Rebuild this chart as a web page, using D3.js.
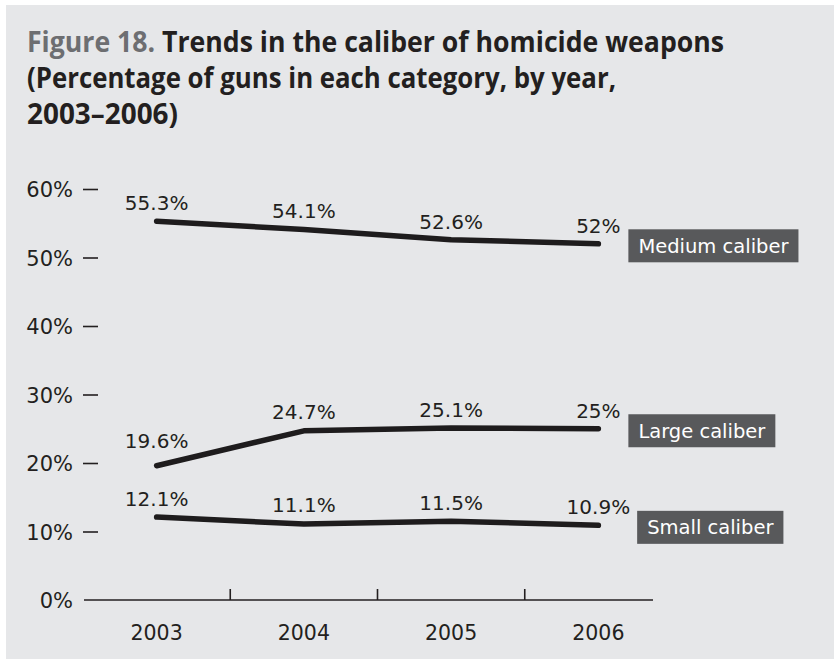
<!DOCTYPE html>
<html>
<head>
<meta charset="utf-8">
<script src="https://cdn.jsdelivr.net/npm/d3@7"></script>
<style>
  body { margin: 0; background: #fff; }
  svg { display: block; }
</style>
</head>
<body>
<div id="chart"></div>
<script>
// years along the x axis
var years = ["2003", "2004", "2005", "2006"];
// percentage of guns per caliber
var medium = [55.3, 54.1, 52.6, 52];
var large = [19.6, 24.7, 25.1, 25];
var small = [12.1, 11.1, 11.5, 10.9];
var seriesNames = ["Medium caliber", "Large caliber", "Small caliber"];
var yTicks = [0, 10, 20, 30, 40, 50, 60];

var W = 834, H = 659;
var svg = d3.select("#chart").append("svg")
    .attr("width", W).attr("height", H);

// gray panel
svg.append("rect")
    .attr("x", 6).attr("y", 5)
    .attr("width", W - 6).attr("height", H - 5)
    .attr("fill", "#e6e7e9");

/* title, three lines */
var title = svg.append("g")
    .style("font-family", "'Open Sans', sans-serif")
    .style("font-weight", "bold")
    .style("font-size", "29px");

var t1 = title.append("text").attr("x", 27).attr("y", 52)
    .attr("textLength", 697).attr("lengthAdjust", "spacingAndGlyphs");
t1.append("tspan").attr("fill", "#6d6e71").text("Figure 18. ");
t1.append("tspan").attr("fill", "#231f20").text("Trends in the caliber of homicide weapons");

title.append("text").attr("x", 27).attr("y", 88)
    .attr("fill", "#231f20")
    .attr("textLength", 589).attr("lengthAdjust", "spacingAndGlyphs")
    .text("(Percentage of guns in each category, by year,");
title.append("text").attr("x", 27).attr("y", 124)
    .attr("fill", "#231f20")
    .attr("textLength", 151).attr("lengthAdjust", "spacingAndGlyphs")
    .text("2003\u20132006)");

/* scales */
var x = d3.scaleBand()
    .domain(years)
    .range([83, 672]);

var y = d3.scaleLinear()
    .domain([0, 60])
    .range([600, 189]);

var cx = function(d) { return x(d) + x.bandwidth() / 2; };

/* y axis: no domain line, short dash ticks */
var yAxis = svg.append("g")
    .attr("transform", "translate(98,0)")
    .call(d3.axisLeft(y)
      .tickValues(yTicks)
      .tickSize(15)
      .tickPadding(10)
      .tickFormat(function(d) { return d + "%"; }));
yAxis.select(".domain").remove();
yAxis.selectAll(".tick line")
    .attr("stroke", "#231f20")
    .attr("stroke-width", 1.6);
yAxis.selectAll(".tick text")
    .attr("fill", "#231f20")
    .style("font-family", "'DejaVu Sans', sans-serif")
    .style("font-size", "21px")
    .attr("dy", "0.36em");
// the 0% tick dash is part of the x axis line
yAxis.selectAll(".tick").filter(function(d) { return d === 0; })
    .select("line").remove();

/* x axis: baseline with tick marks between years */
var xg = svg.append("g");
xg.append("line")
    .attr("x1", 84).attr("x2", 653)
    .attr("y1", y(0)).attr("y2", y(0))
    .attr("stroke", "#231f20")
    .attr("stroke-width", 1.6);
xg.selectAll(".sep")
    .data(years.slice(1))
    .enter().append("line")
    .attr("class", "sep")
    .attr("x1", function(d) { return x(d); })
    .attr("x2", function(d) { return x(d); })
    .attr("y1", y(0)).attr("y2", y(0) - 11)
    .attr("stroke", "#231f20")
    .attr("stroke-width", 1.6);
xg.selectAll(".yr")
    .data(years)
    .enter().append("text")
    .attr("class", "yr")
    .attr("x", cx)
    .attr("y", 640)
    .attr("text-anchor", "middle")
    .attr("fill", "#231f20")
    .style("font-family", "'DejaVu Sans', sans-serif")
    .style("font-size", "20.5px")
    .text(function(d) { return d; });

/* lines */
var series = [medium, large, small].map(function(vals, i) {
  return {
    name: seriesNames[i],
    points: vals.map(function(v, j) { return { year: years[j], value: v }; })
  };
});

var line = d3.line()
    .x(function(d) { return cx(d.year); })
    .y(function(d) { return y(d.value); });

svg.selectAll(".series")
    .data(series)
    .enter().append("path")
    .attr("class", "series")
    .attr("d", function(d) { return line(d.points); })
    .attr("fill", "none")
    .attr("stroke", "#1e1c1d")
    .attr("stroke-width", 5.5)
    .attr("stroke-linecap", "round")
    .attr("stroke-linejoin", "round");

/* value labels above each point; pushed up when the line climbs to the right */
series.forEach(function(s) {
  s.labels = svg.selectAll(null)
    .data(s.points)
    .enter().append("text")
    .attr("x", function(d) { return cx(d.year); })
    .attr("y", function(d, j) {
      var lift = 11;
      var nxt = s.points[j + 1];
      if (nxt) lift += Math.max(0, (y(d.value) - y(nxt.value)) * 0.2);
      return y(d.value) - lift;
    })
    .attr("text-anchor", "middle")
    .attr("fill", "#231f20")
    .style("font-family", "'DejaVu Sans', sans-serif")
    .style("font-size", "20px")
    .text(function(d) { return d.value + "%"; });
});

/* series name boxes at the end of each line, kept clear of the last value label */
series.forEach(function(s) {
  var last = s.points[s.points.length - 1];
  var lastLabel = s.labels.nodes()[s.points.length - 1];
  var lb = lastLabel.getBBox();
  var left = Math.max(cx(last.year) + 30, lb.x + lb.width + 7);
  var g = svg.append("g")
      .attr("transform", "translate(" + left + "," + (y(last.value) + 2) + ")");
  var rect = g.append("rect").attr("fill", "#58595b");
  var txt = g.append("text")
      .attr("x", 10)
      .attr("dy", "0.36em")
      .attr("fill", "#ffffff")
      .style("font-family", "'DejaVu Sans', sans-serif")
      .style("font-size", "19.5px")
      .text(s.name);
  var w = txt.node().getComputedTextLength();
  rect.attr("x", 0).attr("y", -16.5)
      .attr("width", w + 20).attr("height", 33);
});
</script>
</body>
</html>
